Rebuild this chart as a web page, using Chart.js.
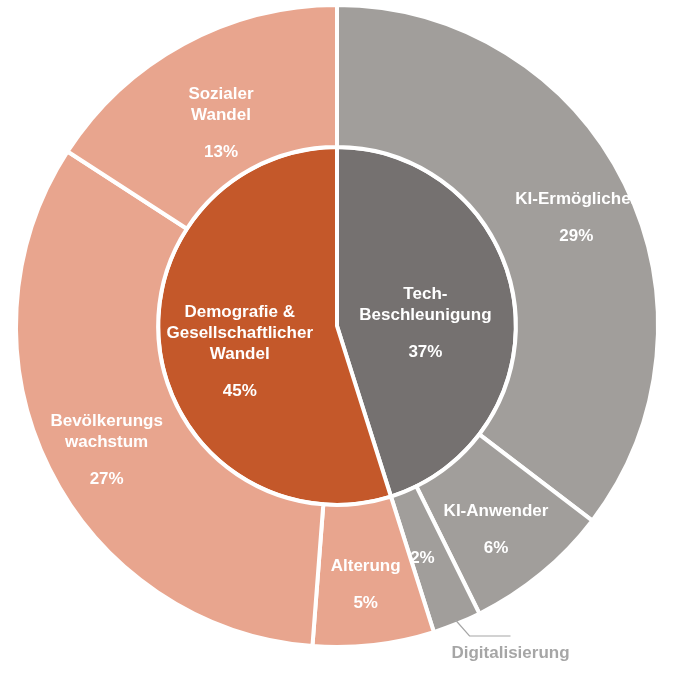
<!DOCTYPE html>
<html><head><meta charset="utf-8">
<script src="https://cdn.jsdelivr.net/npm/chart.js@4.4.1/dist/chart.umd.min.js"></script>
<style>html,body{margin:0;background:#fff}#wrap{width:693px;height:686px}</style>
</head><body><div id="wrap"><canvas id="c"></canvas></div>
<script>
// inner ring: the two driver groups
const innerLabels = [['Tech-', 'Beschleunigung'], ['Demografie &', 'Gesellschaftlicher', 'Wandel']];
const innerValues = [37, 45];
const innerColors = ['#757170', '#C4582A'];

// outer ring: sub-drivers, clockwise from top
const outerLabels = [['KI-Ermöglicher'], ['KI-Anwender'], [''], ['Alterung'], ['Bevölkerungs', 'wachstum'], ['Sozialer', 'Wandel']];
const outerValues = [29, 6, 2, 5, 27, 13];
const outerColors = ['#A19E9B', '#A19E9B', '#A19E9B', '#E8A58E', '#E8A58E', '#E8A58E'];
const outerRadial = [0.62, 0.5, 0.5, 0.5, 0.55, 0.45];
const innerRadial = [0.5, 0.55];

const labelPlugin = {
  id: 'ringLabels',
  afterDatasetsDraw(chart) {
    const ctx = chart.ctx;
    ctx.save();
    ctx.textAlign = 'center';
    ctx.textBaseline = 'middle';
    ctx.font = 'bold 17px "Liberation Sans", Arial, sans-serif';
    const draw = (arc, lines, pct, frac, color) => {
      const mid = (arc.startAngle + arc.endAngle) / 2;
      const r = arc.innerRadius + (arc.outerRadius - arc.innerRadius) * frac;
      const x = arc.x + Math.cos(mid) * r, y = arc.y + Math.sin(mid) * r;
      ctx.fillStyle = color;
      const lh = 21;
      const n = lines.filter(s => s).length;
      let y0 = y - (n * lh + 16) / 2 + lh / 2;
      lines.filter(s => s).forEach((s, i) => ctx.fillText(s, x, y0 + i * lh));
      ctx.fillText(pct + '%', x, y0 + n * lh + (n ? 16 : 0));
    };
    const outer = chart.getDatasetMeta(0).data;
    outer.forEach((arc, i) => {
      if (outerLabels[i][0] === '') {
        // small slice: percentage inside, name outside with leader line
        const prev = outer[i + 1];
        const mid = (arc.startAngle + arc.endAngle) / 2;
        const r = (arc.innerRadius + arc.outerRadius) / 2;
        ctx.fillStyle = '#fff';
        ctx.fillText(outerValues[i] + '%', (arc.x + Math.cos(mid) * r) - 8, arc.y + Math.sin(mid) * r);
        const ex = arc.x + Math.cos(mid) * (arc.outerRadius - 4), ey = arc.y + Math.sin(mid) * (arc.outerRadius - 4);
        ctx.strokeStyle = '#A6A6A6'; ctx.lineWidth = 1.2;
        ctx.beginPath(); ctx.moveTo(ex, ey); ctx.lineTo(ex + 14, ey + 16); ctx.lineTo(ex + 55, ey + 16); ctx.stroke();
        ctx.fillStyle = '#A6A6A6';
        ctx.fillText('Digitalisierung', ex + 55, ey + 33);
      } else {
        draw(arc, outerLabels[i], outerValues[i], outerRadial[i], '#fff');
      }
    });
    chart.getDatasetMeta(1).data.forEach((arc, i) => draw(arc, innerLabels[i], innerValues[i], innerRadial[i], '#fff'));
    ctx.restore();
  }
};

new Chart(document.getElementById('c'), {
  type: 'doughnut',
  data: {
    datasets: [
      { data: outerValues, backgroundColor: outerColors, borderColor: '#fff', borderWidth: 4, weight: 143 },
      { data: innerValues, backgroundColor: innerColors, borderColor: '#fff', borderWidth: 4, weight: 180 }
    ]
  },
  options: {
    responsive: true,
    maintainAspectRatio: false,
    animation: false,
    cutout: 0,
    layout: { padding: { left: 14, right: 33, top: 2, bottom: 36 } },
    plugins: { legend: { display: false }, tooltip: { enabled: false } }
  },
  plugins: [labelPlugin]
});
</script></body></html>
